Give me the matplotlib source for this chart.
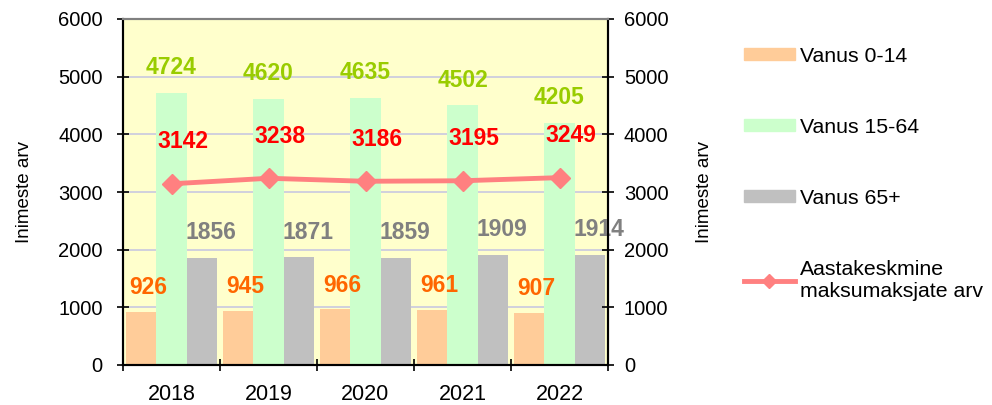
import numpy as np
import matplotlib.pyplot as plt
from matplotlib.patches import Patch
from matplotlib.lines import Line2D

plt.rcParams['font.family'] = ['Liberation Sans', 'DejaVu Sans']

years = ['2018', '2019', '2020', '2021', '2022']
age_0_14 = [926, 945, 966, 961, 907]
age_15_64 = [4724, 4620, 4635, 4502, 4205]
age_65 = [1856, 1871, 1859, 1909, 1914]
taxpayers = [3142, 3238, 3186, 3195, 3249]

c_orange, c_green, c_gray, c_line = '#FFCC99', '#CCFFCC', '#C0C0C0', '#FF8080'

fig = plt.figure(figsize=(9.92, 4.05), dpi=100)
ax = fig.add_axes([123 / 992, 40 / 405, 485 / 992, 346 / 405])
ax.set_facecolor('#FFFFCC')

x = np.arange(len(years))
w = 0.3125
ax.bar(x - w, age_0_14, w, color=c_orange, zorder=2)
ax.bar(x, age_15_64, w, color=c_green, zorder=2)
ax.bar(x + w, age_65, w, color=c_gray, zorder=2)
ax.plot(x, taxpayers, color=c_line, lw=3.5, marker='D', ms=10, zorder=3)

px = 0.72  # pixels -> points
for i in range(len(years)):
    ax.annotate(str(age_0_14[i]), (x[i] - w, age_0_14[i]), xytext=(7 * px, 24 * px),
                textcoords='offset points', ha='center', va='center',
                fontsize=16.5, fontweight='bold', color='#FF6600', zorder=4)
    ax.annotate(str(age_15_64[i]), (x[i], age_15_64[i]), xytext=(0, 25 * px),
                textcoords='offset points', ha='center', va='center',
                fontsize=16.5, fontweight='bold', color='#99CC00', zorder=4)
    ax.annotate(str(age_65[i]), (x[i] + w, age_65[i]), xytext=(9 * px, 25 * px),
                textcoords='offset points', ha='center', va='center',
                fontsize=16.5, fontweight='bold', color='#808080', zorder=4)
    ax.annotate(str(taxpayers[i]), (x[i], taxpayers[i]), xytext=(11 * px, 42 * px),
                textcoords='offset points', ha='center', va='center',
                fontsize=16.5, fontweight='bold', color='#FF0000', zorder=4)

ax.set_xlim(-0.5, len(years) - 0.5)
ax.set_ylim(0, 6000)
ax.set_yticks(range(0, 6001, 1000))
ax.yaxis.grid(True, color='#C8C8E0', lw=1.2, zorder=1)
ax.set_axisbelow(True)

ax.set_xticks(x)
ax.set_xticklabels(years, fontsize=15.5)
ax.set_xticks(np.arange(-0.5, len(years)), minor=True)
ax.tick_params(axis='x', which='major', length=0, pad=14)
ax.tick_params(axis='x', which='minor', direction='inout', length=9, width=1.2)
ax.tick_params(axis='y', direction='inout', length=9, width=1.2, labelsize=14.5, pad=10)
ax.set_ylabel('Inimeste arv', fontsize=13.5, labelpad=18)

ax2 = ax.twinx()
ax2.set_ylim(0, 6000)
ax2.set_yticks(range(0, 6001, 1000))
ax2.tick_params(axis='y', direction='inout', length=9, width=1.2, labelsize=14.5, pad=7)
ax2.set_ylabel('Inimeste arv', fontsize=13.5, labelpad=20)

for a in (ax, ax2):
    for s in ('left', 'right', 'bottom'):
        a.spines[s].set_linewidth(1.5)
        a.spines[s].set_color('black')
    a.spines['top'].set_color('#808080')
    a.spines['top'].set_linewidth(1.5)

handles = [Patch(color=c_orange), Patch(color=c_green), Patch(color=c_gray),
           Line2D([0], [0], color=c_line, lw=3.5, marker='D', ms=7)]
labels = ['Vanus 0-14', 'Vanus 15-64', 'Vanus 65+', 'Aastakeskmine\nmaksumaksjate arv']
fig.legend(handles, labels, loc='upper left', bbox_to_anchor=(735 / 992, 1 - 38 / 405),
           frameon=False, fontsize=15.3, handlelength=2.4, handleheight=0.5,
           labelspacing=2.45, handletextpad=0.25, borderaxespad=0)

fig.savefig('out.png', dpi=100)
